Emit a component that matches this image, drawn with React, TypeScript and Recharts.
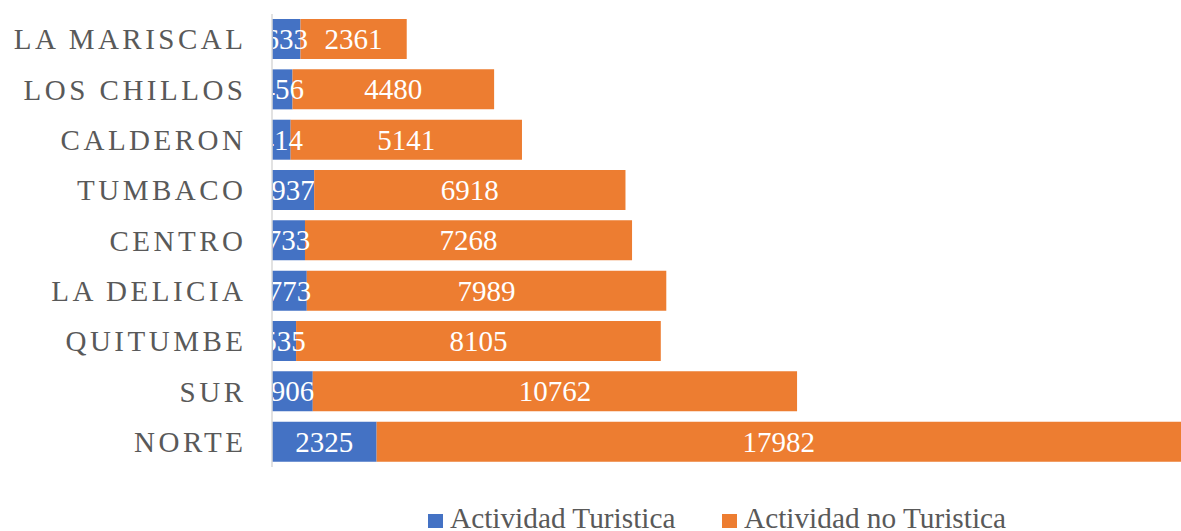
import React from 'react';
import { BarChart, Bar, XAxis, YAxis, LabelList } from 'recharts';

const categories = ['LA MARISCAL', 'LOS CHILLOS', 'CALDERON', 'TUMBACO', 'CENTRO', 'LA DELICIA', 'QUITUMBE', 'SUR', 'NORTE'];
const turistica = [633, 456, 414, 937, 733, 773, 535, 906, 2325];
const noTuristica = [2361, 4480, 5141, 6918, 7268, 7989, 8105, 10762, 17982];
const seriesNames = ['Actividad Turistica', 'Actividad no Turistica'];
const colors = ['#4472C4', '#ED7D31'];

const data = categories.map((name, i) => ({ name, tur: turistica[i], noTur: noTuristica[i] }));

const FONT = '"Liberation Serif", "Times New Roman", serif';
const AXIS_X = 272;

const CategoryTick = (props: any) => {
  const { y, payload } = props;
  return (
    <text x={AXIS_X - 25.5} y={y} textAnchor="end" dominantBaseline="central" fill="#595959"
      style={{ fontFamily: FONT, fontSize: 29, letterSpacing: '3.5px' }}>
      {payload.value}
    </text>
  );
};

const makeLabel = (prefix: string) => (props: any) => {
  const { x, y, width, height, value, index } = props;
  const id = `clip-${prefix}-${index}`;
  return (
    <g>
      <defs>
        <clipPath id={id}>
          <rect x={AXIS_X + 1} y={0} width={1200} height={531} />
        </clipPath>
      </defs>
      <text x={x + width / 2} y={y + height / 2} textAnchor="middle" dominantBaseline="central"
        fill="#ffffff" clipPath={`url(#${id})`} style={{ fontFamily: FONT, fontSize: 29 }}>
        {value}
      </text>
    </g>
  );
};

export default function App() {
  return (
    <div style={{ position: 'absolute', left: 0, top: 0, width: 1181, height: 531, background: '#fff', overflow: 'hidden' }}>
      <BarChart width={1181} height={531} data={data} layout="vertical" barCategoryGap="10%"
        margin={{ top: 14, right: 0, bottom: 64, left: 0 }}>
        <XAxis type="number" hide domain={[0, 20200]} allowDataOverflow />
        <YAxis type="category" dataKey="name" width={AXIS_X} axisLine={{ stroke: '#D9D9D9', strokeWidth: 1.5 }}
          tickLine={false} tick={<CategoryTick />} interval={0} />
        <Bar dataKey="tur" stackId="a" fill={colors[0]} isAnimationActive={false} name={seriesNames[0]}>
          <LabelList dataKey="tur" content={makeLabel('a')} />
        </Bar>
        <Bar dataKey="noTur" stackId="a" fill={colors[1]} isAnimationActive={false} name={seriesNames[1]}>
          <LabelList dataKey="noTur" content={makeLabel('b')} />
        </Bar>
      </BarChart>
      {seriesNames.map((n, i) => (
        <div key={n} style={{ position: 'absolute', left: i === 0 ? 428 : 722, top: 504, height: 29.3, whiteSpace: 'nowrap', fontFamily: FONT, fontSize: 29.3, lineHeight: 1, color: '#595959' }}>
          <span style={{ position: 'absolute', left: 0, top: 10, width: 15, height: 14, background: colors[i] }} />
          <span style={{ position: 'absolute', left: 22, top: 0 }}>{n}</span>
        </div>
      ))}
    </div>
  );
}
